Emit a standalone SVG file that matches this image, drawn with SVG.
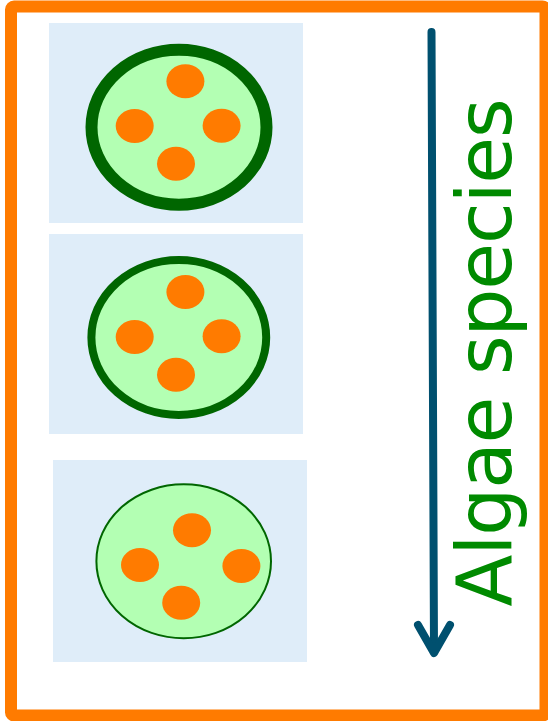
<svg xmlns="http://www.w3.org/2000/svg" width="548" height="721" viewBox="0 0 548 721">
  <style>
    .frame { fill: #ffffff; stroke: #ff7b00; stroke-width: 12; }
    .panel { fill: #dfedf9; }
    .cell { fill: #b3ffb3; stroke: #006600; }
    .dot { fill: #ff7b00; }
    .axis { fill: none; stroke: #00506f; stroke-width: 8; stroke-linecap: round; stroke-linejoin: round; }
    .label { font-family: "DejaVu Sans", sans-serif; font-size: 76px; fill: #008a00; }
  </style>

  <!-- outer frame -->
  <rect class="frame" x="11" y="6.5" width="534.5" height="709" rx="3"/>

  <!-- cell with thick wall -->
  <g id="cell-thick">
    <rect class="panel" x="49" y="23" width="254" height="200"/>
    <ellipse class="cell" cx="179" cy="127.2" rx="87.5" ry="77.5" stroke-width="12"/>
    <ellipse class="dot" cx="185.4" cy="81.3" rx="19" ry="17"/>
    <ellipse class="dot" cx="134.7" cy="126" rx="19" ry="17"/>
    <ellipse class="dot" cx="221.6" cy="125.7" rx="19" ry="17"/>
    <ellipse class="dot" cx="176" cy="163.7" rx="19" ry="17"/>
  </g>

  <!-- cell with medium wall -->
  <g id="cell-medium">
    <rect class="panel" x="49" y="234" width="254" height="200"/>
    <ellipse class="cell" cx="178.8" cy="337.5" rx="87.4" ry="77.5" stroke-width="8"/>
    <ellipse class="dot" cx="185.4" cy="292" rx="19" ry="17"/>
    <ellipse class="dot" cx="134.7" cy="337" rx="19" ry="17"/>
    <ellipse class="dot" cx="221.6" cy="336.3" rx="19" ry="17"/>
    <ellipse class="dot" cx="176" cy="374.7" rx="19" ry="17"/>
  </g>

  <!-- cell with thin wall -->
  <g id="cell-thin">
    <rect class="panel" x="53" y="460" width="254" height="202"/>
    <ellipse class="cell" cx="183.7" cy="561.3" rx="87.3" ry="77" stroke-width="2"/>
    <ellipse class="dot" cx="192" cy="530.2" rx="19" ry="17"/>
    <ellipse class="dot" cx="140" cy="565" rx="19" ry="17"/>
    <ellipse class="dot" cx="241.4" cy="566" rx="19" ry="17"/>
    <ellipse class="dot" cx="181.2" cy="602.7" rx="19" ry="17"/>
  </g>

  <!-- direction arrow -->
  <g id="connectors">
    <line class="axis" x1="431.5" y1="32" x2="434" y2="650" stroke-linecap="butt"/>
    <polyline class="axis" points="418,625 434,653 450,625"/>
  </g>

  <g id="axis-label">
    <text class="label" transform="translate(511.3,606.5) rotate(-90)" textLength="508" lengthAdjust="spacing">Algae species</text>
  </g>
</svg>
